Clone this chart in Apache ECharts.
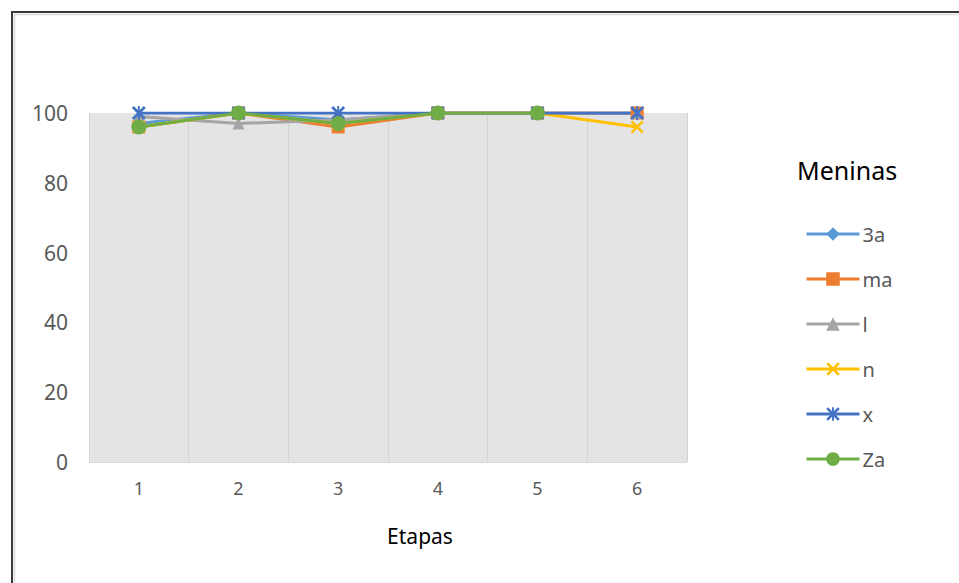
<!DOCTYPE html>
<html>
<head>
<meta charset="utf-8">
<script src="https://cdn.jsdelivr.net/npm/echarts@6/dist/echarts.min.js"></script>
<style>
html,body{margin:0;padding:0;background:#fff;}
#chart{width:959px;height:583px;}
</style>
</head>
<body>
<div id="chart"></div>
<script>
const categories = ['1', '2', '3', '4', '5', '6'];
const seriesNames = ['3a', 'ma', 'l', 'n', 'x', 'Za'];
const s3a = [97, 100, 98, 100, 100, 100];
const sMa = [96, 100, 96, 100, 100, 100];
const sL  = [99, 97, 98, 100, 100, 100];
const sN  = [96, 100, 97, 100, 100, 96];
const sX  = [100, 100, 100, 100, 100, 100];
const sZa = [96, 100, 97, 100, 100, null];
const yTicks = [0, 20, 40, 60, 80, 100];
const xAxisTitle = 'Etapas';
const legendTitle = 'Meninas';

const colors = ['#5b9bd5', '#ed7d31', '#a5a5a5', '#ffc000', '#4472c4', '#70ad47'];
const X_PATH = 'path://M0,1.4L1.4,0L10,8.6L8.6,10Z M8.6,0L10,1.4L1.4,10L0,8.6Z';
const STAR_PATH = 'path://M0,1.4L1.4,0L10,8.6L8.6,10Z M8.6,0L10,1.4L1.4,10L0,8.6Z M4.3,0L5.7,0L5.7,10L4.3,10Z';
const symbols = ['diamond', 'rect', 'triangle', X_PATH, STAR_PATH, 'circle'];
const sizes = [13, 13, 12, 13, 14, 15];
const values = [s3a, sMa, sL, sN, sX, sZa];

const chart = echarts.init(document.getElementById('chart'), null, {renderer: 'svg'});
const font = 'Noto Sans';

chart.setOption({
  animation: false,
  backgroundColor: '#ffffff',
  color: colors,
  grid: {
    left: 89, right: 272, top: 113, bottom: 121,
    show: true, backgroundColor: '#e4e4e4', borderWidth: 0
  },
  legend: {
    orient: 'vertical',
    left: 805, top: 224,
    padding: 0,
    itemWidth: 53, itemHeight: 17, itemGap: 25,
    data: seriesNames,
    lineStyle: {width: 3},
    textStyle: {color: '#595959', fontSize: 20, lineHeight: 20, fontFamily: font, padding: [0, 0, 0, -2]}
  },
  xAxis: {
    type: 'category',
    data: categories,
    boundaryGap: true,
    axisLine: {show: true, lineStyle: {color: '#d9d9d9', width: 1}},
    axisTick: {show: false},
    splitLine: {show: true, lineStyle: {color: '#d4d4d4', width: 1}},
    axisLabel: {color: '#595959', fontSize: 18, fontFamily: font, margin: 17}
  },
  yAxis: {
    type: 'value',
    min: yTicks[0], max: yTicks[yTicks.length - 1], interval: yTicks[1] - yTicks[0],
    axisLine: {show: false},
    axisTick: {show: false},
    splitLine: {show: false},
    axisLabel: {color: '#595959', fontSize: 21, fontFamily: font, margin: 21}
  },
  series: seriesNames.map((name, i) => ({
    name: name,
    type: 'line',
    data: values[i],
    symbol: symbols[i],
    symbolSize: sizes[i],
    showAllSymbol: true,
    lineStyle: {width: 3, color: colors[i]},
    itemStyle: {color: colors[i], borderColor: colors[i], borderWidth: 0}
  })),
  graphic: [
    {type: 'rect', shape: {x: 12, y: 12, width: 2000, height: 2000}, style: {fill: 'none', stroke: '#3a3a3a', lineWidth: 2}, silent: true},
    {type: 'rect', shape: {x: 14.5, y: 14.5, width: 2000, height: 2000}, style: {fill: 'none', stroke: '#dcdcdc', lineWidth: 1.5}, silent: true},
    {type: 'text', x: 420, y: 536, style: {text: xAxisTitle, fill: '#000', font: '21px ' + font, textAlign: 'center', textVerticalAlign: 'middle'}},
    {type: 'text', x: 797, y: 170, style: {text: legendTitle, fill: '#000', font: '25px ' + font, textAlign: 'left', textVerticalAlign: 'middle'}}
  ]
});
</script>
</body>
</html>
